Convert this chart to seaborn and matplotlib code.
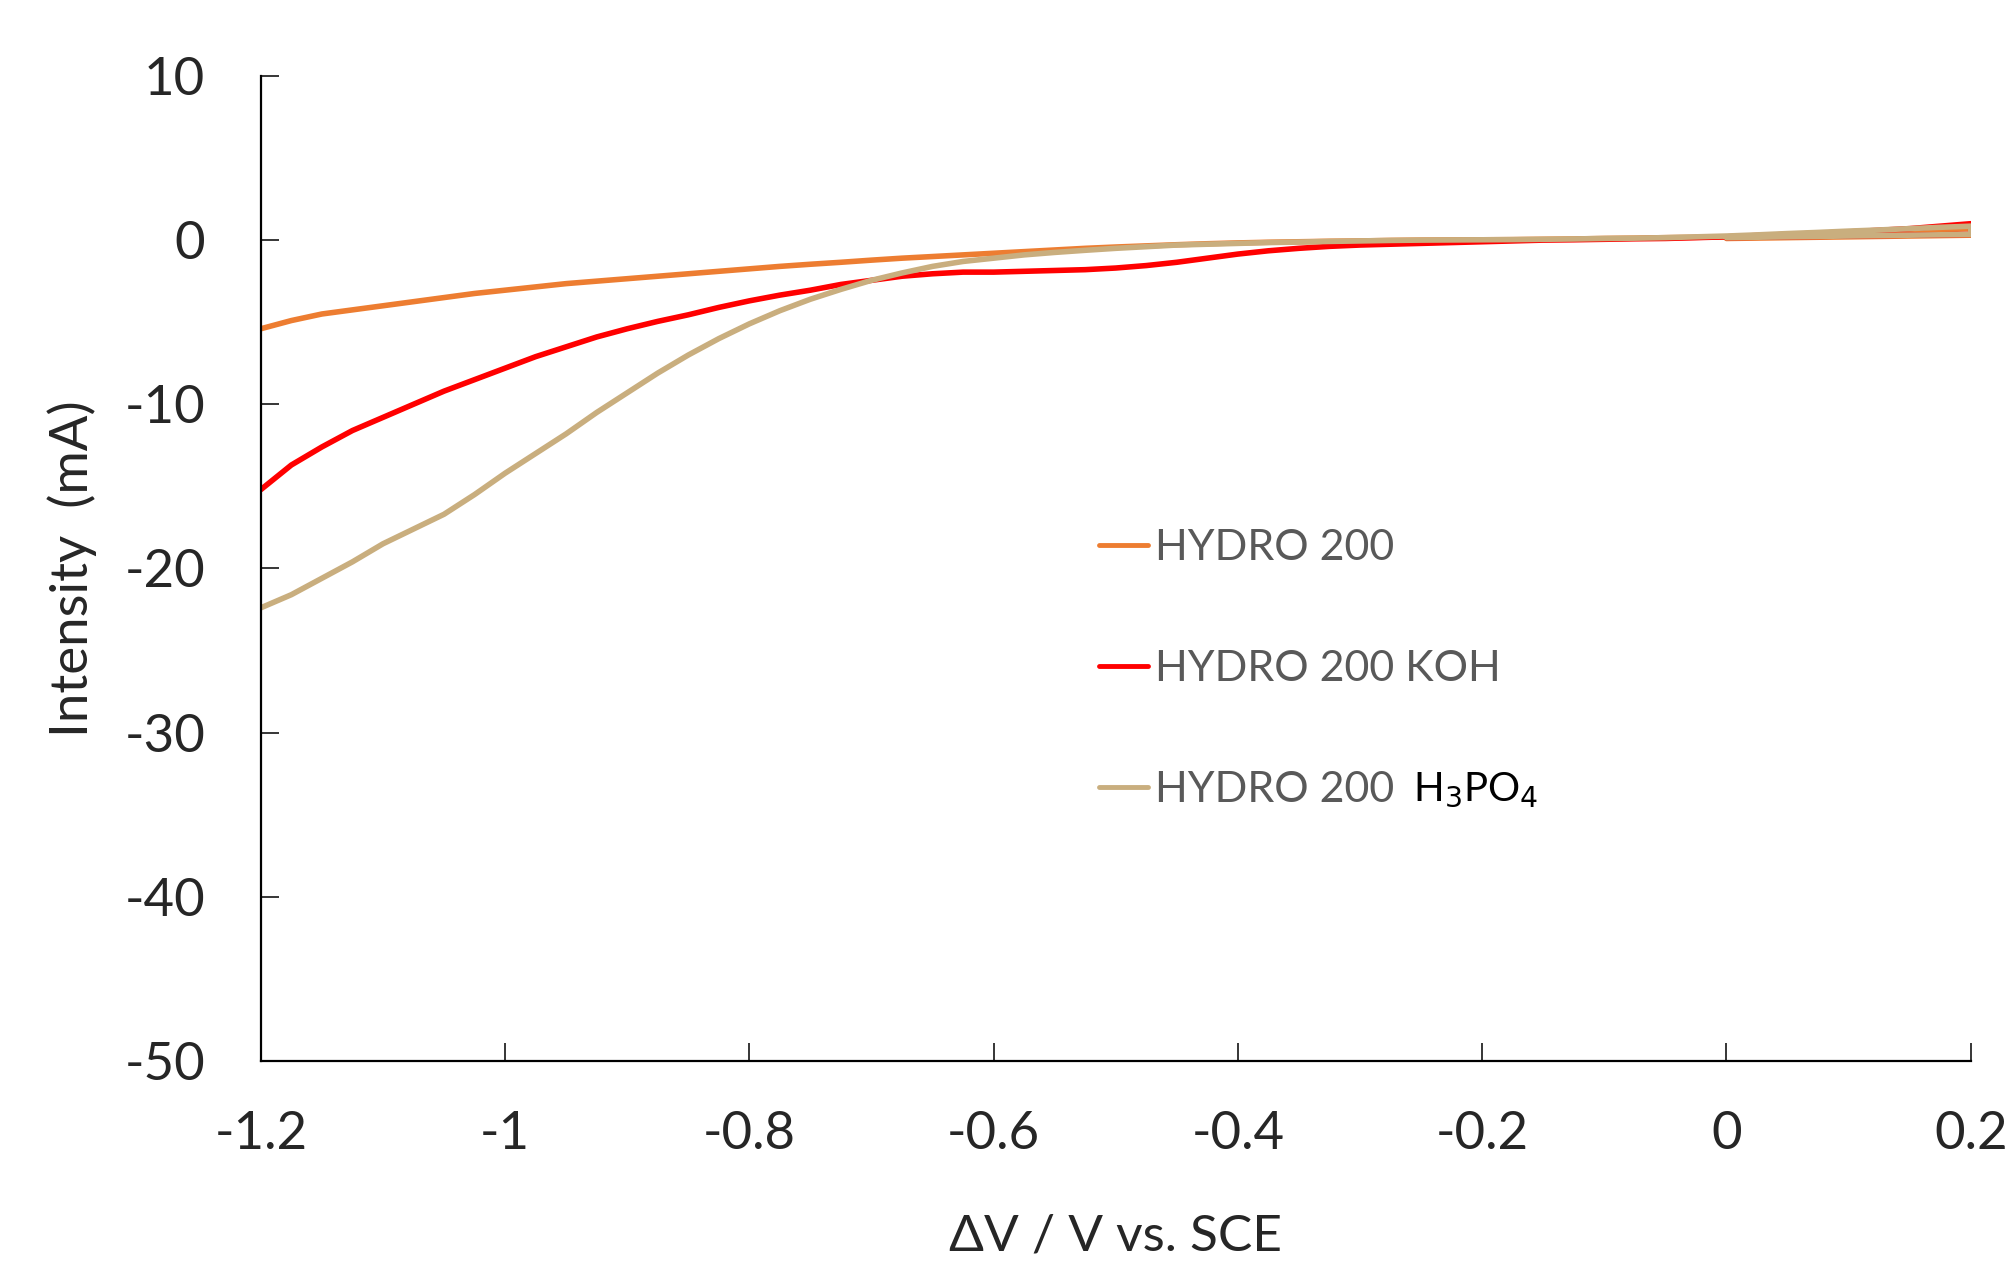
import numpy as np
import pandas as pd
import seaborn as sns
from matplotlib import pyplot as plt

# forward scan, potential (V vs SCE)
potential = [-1.2, -1.175, -1.15, -1.125, -1.1, -1.075, -1.05, -1.025, -1.0, -0.975,
             -0.95, -0.925, -0.9, -0.875, -0.85, -0.825, -0.8, -0.775, -0.75, -0.725,
             -0.7, -0.675, -0.65, -0.625, -0.6, -0.575, -0.55, -0.525, -0.5, -0.475,
             -0.45, -0.425, -0.4, -0.375, -0.35, -0.325, -0.3, -0.275, -0.25, -0.225,
             -0.2, -0.175, -0.15, -0.125, -0.1, -0.075, -0.05, -0.025, 0.0, 0.025,
             0.05, 0.075, 0.1, 0.125, 0.15, 0.175, 0.2]

hydro200 = [-5.4, -4.9, -4.5, -4.25, -4.0, -3.75, -3.5, -3.25, -3.05, -2.85,
            -2.65, -2.5, -2.35, -2.2, -2.05, -1.9, -1.75, -1.6, -1.47, -1.35,
            -1.22, -1.1, -1.0, -0.9, -0.8, -0.7, -0.6, -0.5, -0.42, -0.35,
            -0.28, -0.22, -0.17, -0.13, -0.1, -0.07, -0.05, -0.02, 0.0, 0.01,
            0.02, 0.03, 0.05, 0.07, 0.1, 0.12, 0.15, 0.17, 0.2, 0.25,
            0.3, 0.35, 0.4, 0.47, 0.55, 0.62, 0.7]
hydro200_koh = [-15.2, -13.7, -12.6, -11.6, -10.8, -10.0, -9.2, -8.5, -7.8, -7.1,
                -6.5, -5.9, -5.4, -4.95, -4.55, -4.1, -3.7, -3.35, -3.05, -2.7,
                -2.45, -2.2, -2.05, -1.95, -1.95, -1.9, -1.85, -1.8, -1.7, -1.55,
                -1.35, -1.1, -0.85, -0.65, -0.5, -0.38, -0.3, -0.25, -0.2, -0.15,
                -0.1, -0.05, 0.0, 0.02, 0.05, 0.08, 0.1, 0.15, 0.2, 0.28,
                0.35, 0.42, 0.5, 0.6, 0.7, 0.85, 1.0]
hydro200_h3po4 = [-22.4, -21.6, -20.6, -19.6, -18.5, -17.6, -16.7, -15.5, -14.2, -13.0,
                  -11.8, -10.5, -9.3, -8.1, -7.0, -6.0, -5.1, -4.3, -3.6, -3.0,
                  -2.45, -2.0, -1.6, -1.3, -1.1, -0.9, -0.75, -0.62, -0.5, -0.4,
                  -0.3, -0.25, -0.2, -0.15, -0.12, -0.08, -0.05, -0.02, 0.0, 0.01,
                  0.02, 0.03, 0.05, 0.07, 0.1, 0.12, 0.15, 0.2, 0.25, 0.32,
                  0.4, 0.47, 0.55, 0.62, 0.7, 0.78, 0.85]

# short return scan at the right end
potential_back = [0.2, 0.15, 0.1, 0.05, 0.0]
hydro200_back = [0.3, 0.25, 0.2, 0.15, 0.1]
hydro200_koh_back = [0.35, 0.3, 0.25, 0.2, 0.15]
hydro200_h3po4_back = [0.35, 0.3, 0.25, 0.2, 0.15]

names = ['HYDRO 200', 'HYDRO 200 KOH', 'HYDRO 200 H3PO4']
colors = ['#ED7D31', '#FF0000', '#C9AE7E']

#####-----#####

frames = []
for name, fwd, back in zip(names,
                           [hydro200, hydro200_koh, hydro200_h3po4],
                           [hydro200_back, hydro200_koh_back, hydro200_h3po4_back]):
    frames.append(pd.DataFrame({'V': potential + potential_back,
                                'I': fwd + back,
                                'sample': name}))
data = pd.concat(frames, ignore_index=True)

sns.set_style('ticks')
plt.rcParams['font.family'] = ['Lato', 'DejaVu Sans']
plt.rcParams['axes.unicode_minus'] = False

fig = plt.figure(figsize=(20.14, 12.66), dpi=100)
ax = fig.add_axes([0.1295, 0.162, 0.849, 0.778])

sns.lineplot(data=data, x='V', y='I', hue='sample', palette=colors, hue_order=names,
             sort=False, estimator=None, linewidth=4, ax=ax)

ax.set_xlim(-1.2, 0.2)
ax.set_ylim(-50, 10)
ax.set_xticks(np.arange(-1.2, 0.21, 0.2))
ax.set_xticklabels(['-1.2', '-1', '-0.8', '-0.6', '-0.4', '-0.2', '0', '0.2'])
ax.set_yticks(np.arange(-50, 11, 10))
ax.tick_params(direction='in', length=13, width=1.3, labelsize=38)
ax.tick_params(axis='y', pad=40)
ax.tick_params(axis='x', pad=36)

for s in ['top', 'right']:
    ax.spines[s].set_visible(False)
for s in ['left', 'bottom']:
    ax.spines[s].set_linewidth(1.6)
    ax.spines[s].set_color('black')

ax.set_xlabel('ΔV / V vs. SCE', fontsize=37, labelpad=40)
ax.set_ylabel('Intensity  (mA)', fontsize=38, labelpad=20)

handles, labels = ax.get_legend_handles_labels()
leg = ax.legend(handles, ['HYDRO 200', 'HYDRO 200 KOH', 'HYDRO 200'],
                loc='upper left', bbox_to_anchor=(0.4775, 0.562), frameon=False,
                fontsize=31, handlelength=1.15, handletextpad=0.15, labelspacing=1.93,
                borderpad=0)
for t in leg.get_texts():
    t.set_color('#595959')
for h in leg.get_lines():
    h.set_linewidth(3.5)

ax.text(-0.257, -33.5, r'H$_3$PO$_4$', fontsize=29, color='black', va='center', ha='left')

plt.savefig('out.png', dpi=100)
